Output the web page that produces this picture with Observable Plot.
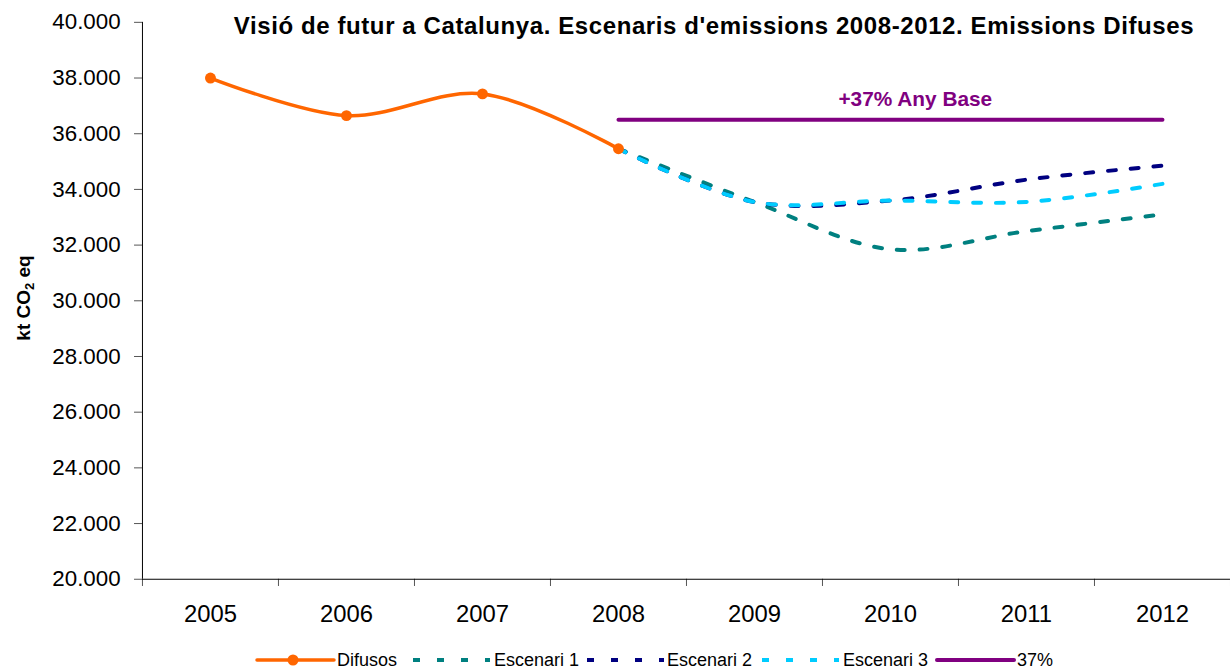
<!DOCTYPE html>
<html>
<head>
<meta charset="utf-8">
<script src="https://cdn.jsdelivr.net/npm/d3@7"></script>
<script src="https://cdn.jsdelivr.net/npm/@observablehq/plot@0.6"></script>
<style>
  html, body { margin: 0; padding: 0; background: white; overflow: hidden; }
  #wrap { position: relative; width: 1230px; height: 669px; overflow: hidden; font-family: "Liberation Sans", Arial, sans-serif; }
  #chart { position: absolute; left: 0; top: 0; }
  #title { position: absolute; left: 0; width: 1428px; top: 14px; line-height: 24px; text-align: center; font-weight: bold; font-size: 24px; letter-spacing: 0.6px; color: #000; white-space: nowrap; }
  #ylabel { position: absolute; left: 24px; top: 298px; transform: translate(-50%, -50%) rotate(-90deg); font-weight: bold; font-size: 19px; white-space: nowrap; line-height: 20px; }
  #ylabel sub { font-size: 13px; vertical-align: -4px; line-height: 0; }
  #legend { position: absolute; top: 650px; left: 0; width: 1230px; height: 20px; font-size: 18px; }
  #legend .sample { position: absolute; top: 0; }
  #legend .label { position: absolute; top: 0; line-height: 20px; white-space: nowrap; }
</style>
</head>
<body>
<div id="wrap">
  <div id="chart"></div>
  <div id="title">Visió de futur a Catalunya. Escenaris d'emissions 2008-2012. Emissions Difuses</div>
  <div id="ylabel">kt CO<sub>2</sub> eq</div>
  <div id="legend"></div>
</div>
<script>
// ---- data ----
const years = [2005, 2006, 2007, 2008, 2009, 2010, 2011, 2012];
const yTicks = [20000, 22000, 24000, 26000, 28000, 30000, 32000, 34000, 36000, 38000, 40000];

const difusosYears = [2005, 2006, 2007, 2008];
const difusosValues = [38000, 36650, 37430, 35460];

const scenarioYears = [2008, 2009, 2010, 2011, 2012];
const escenari1 = [35460, 33550, 31850, 32500, 33100];
const escenari2 = [35460, 33550, 33600, 34350, 34850];
const escenari3 = [35460, 33550, 33600, 33550, 34200];

const baseYears = [2008, 2012];
const base37 = [36500, 36500];
const baseLabel = "+37% Any Base";

const seriesNames = ["Difusos", "Escenari 1", "Escenari 2", "Escenari 3", "37%"];
const colors = {"Difusos": "#FF6600", "Escenari 1": "#008080", "Escenari 2": "#000080", "Escenari 3": "#00CCFF", "37%": "#800080"};

// ---- tables ----
const difusos = difusosYears.map((x, i) => ({x, y: difusosValues[i]}));
const esc = (vals) => scenarioYears.map((x, i) => ({x, y: vals[i]}));
const base = baseYears.map((x, i) => ({x, y: base37[i]}));
const bounds = d3.range(years.length + 1).map(i => years[0] - 0.5 + i);

const loc = d3.formatLocale({decimal: ",", thousands: ".", grouping: [3], currency: ["", "€"]});
const fmt = loc.format(",.0f");

const dash = "8,15";

const plot = Plot.plot({
  width: 1239,
  height: 633,
  marginLeft: 143,
  marginRight: 0,
  marginTop: 22,
  marginBottom: 50,
  style: {fontFamily: "'Liberation Sans', Arial, sans-serif", fontSize: "19px", background: "white", overflow: "visible"},
  x: {type: "linear", domain: [years[0] - 0.5, years[years.length - 1] + 0.5], axis: null},
  y: {domain: [20000, 40000], axis: null},
  marks: [
    Plot.axisY({ticks: yTicks, tickFormat: fmt, tickSize: 8, tickPadding: 14, label: null, stroke: "#555", fill: "#000", fontSize: 22.5}),
    Plot.axisX({ticks: years, tickSize: 0, tickPadding: 26, tickFormat: d => String(d), label: null, fill: "#000", fontSize: 24}),
    Plot.ruleX(bounds, {x: d => d, y1: 20000, y2: 19740, stroke: "#555"}),
    Plot.ruleY([20000], {stroke: "#000"}),
    Plot.ruleX([bounds[0]], {y1: 20000, y2: 40000, stroke: "#000"}),
    Plot.line(base, {x: "x", y: "y", stroke: colors["37%"], strokeWidth: 4, strokeLinecap: "round"}),
    Plot.text([{x: 2010, y: base37[0]}], {x: "x", y: "y", text: () => baseLabel, dx: 25, dy: -21, fill: colors["37%"], fontWeight: "bold", fontSize: 21}),
    Plot.line(esc(escenari1), {x: "x", y: "y", stroke: colors["Escenari 1"], strokeWidth: 4, strokeDasharray: dash, curve: "catmull-rom"}),
    Plot.line(esc(escenari2), {x: "x", y: "y", stroke: colors["Escenari 2"], strokeWidth: 4, strokeDasharray: dash, curve: "catmull-rom"}),
    Plot.line(esc(escenari3), {x: "x", y: "y", stroke: colors["Escenari 3"], strokeWidth: 4, strokeDasharray: dash, curve: "catmull-rom"}),
    Plot.line(difusos, {x: "x", y: "y", stroke: colors["Difusos"], strokeWidth: 3.5, curve: "catmull-rom"}),
    Plot.dot(difusos, {x: "x", y: "y", fill: colors["Difusos"], r: 5.5})
  ]
});
document.getElementById("chart").appendChild(plot);

// ---- legend ----
const legend = document.getElementById("legend");
const sampleLeft = [255, 413, 587, 762, 935];
const labelLeft = [337, 494, 667, 843, 1017];
seriesNames.forEach((name, i) => {
  const c = colors[name];
  let sample;
  if (name === "Difusos") {
    sample = `<line x1="2" y1="10" x2="79" y2="10" stroke="${c}" stroke-width="3.5" stroke-linecap="round"/><circle cx="38" cy="10" r="5.5" fill="${c}"/>`;
  } else if (name === "37%") {
    sample = `<line x1="2" y1="10" x2="79" y2="10" stroke="${c}" stroke-width="4" stroke-linecap="round"/>`;
  } else {
    sample = `<line x1="0" y1="10" x2="77" y2="10" stroke="${c}" stroke-width="4" stroke-dasharray="7,17"/>`;
  }
  const s = document.createElement("div");
  s.className = "sample";
  s.style.left = sampleLeft[i] + "px";
  s.innerHTML = `<svg width="82" height="20" style="display:block">${sample}</svg>`;
  legend.appendChild(s);
  const l = document.createElement("div");
  l.className = "label";
  l.style.left = labelLeft[i] + "px";
  l.textContent = name;
  legend.appendChild(l);
});
</script>
</body>
</html>
